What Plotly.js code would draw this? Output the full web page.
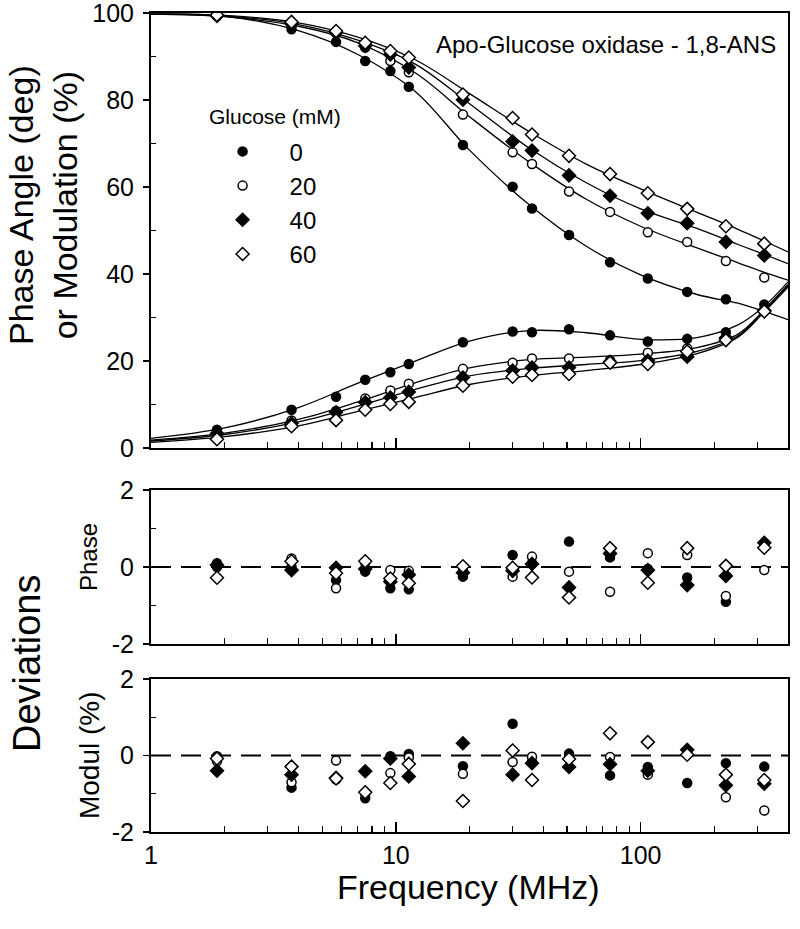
<!DOCTYPE html>
<html>
<head>
<meta charset="utf-8">
<script src="https://cdn.plot.ly/plotly-3.0.1.min.js"></script>
<style>html,body{margin:0;padding:0;background:#fff;}#plot{width:800px;height:929px;}</style>
</head>
<body>
<div id="plot"></div>
<script>
// Frequencies (MHz) of measured points
const freq = [1.86, 3.75, 5.7, 7.5, 9.5, 11.3, 18.8, 30, 36, 51, 75, 107, 155, 223, 320];
const glucoseLabels = ["0", "20", "40", "60"];

// Modulation (%) points
const mod0  = [99.5, 96.3, 93.4, 89.0, 86.7, 83.1, 69.7, 60.1, 55.1, 49.0, 42.7, 39.0, 35.9, 34.2, 31.6];
const mod20 = [99.3, 97.2, 95.4, 92.1, 89.0, 86.4, 76.7, 68.0, 65.3, 59.0, 54.3, 49.6, 47.4, 43.0, 39.2];
const mod40 = [99.4, 97.6, 95.5, 92.5, 90.5, 87.5, 80.1, 70.5, 68.4, 62.7, 58.0, 54.0, 51.7, 47.4, 44.3];
const mod60 = [99.6, 98.0, 95.9, 93.2, 91.3, 89.8, 81.3, 75.9, 72.1, 67.2, 63.0, 58.6, 55.0, 51.0, 47.0];

// Phase angle (deg) points
const ph0  = [4.2, 8.8, 11.8, 15.7, 17.4, 19.3, 24.3, 26.8, 26.6, 27.3, 25.9, 24.5, 25.1, 26.6, 33.0];
const ph20 = [2.8, 6.3, 8.5, 11.4, 13.2, 14.8, 18.2, 19.6, 20.6, 20.6, 20.2, 21.9, 22.9, 25.0, 31.6];
const ph40 = [3.3, 5.7, 8.2, 10.5, 11.6, 12.9, 16.2, 17.8, 18.5, 18.5, 19.8, 20.1, 21.0, 25.3, 31.6];
const ph60 = [2.0, 5.0, 6.4, 8.8, 10.1, 10.6, 14.3, 16.4, 16.8, 17.0, 19.6, 19.3, 22.2, 24.8, 31.4];

// Fitted curves, read at these frequencies
const fitFreq = [1, 2, 4, 7, 12, 20, 35, 60, 100, 170, 250, 320, 400];
const fitMod0  = [99.8, 99.3, 96.0, 90.5, 82.0, 68.5, 56.0, 46.4, 39.8, 35.3, 33.3, 31.4, 29.5];
const fitMod20 = [99.8, 99.2, 97.0, 93.2, 86.3, 76.2, 65.8, 57.2, 51.0, 46.0, 42.6, 40.4, 38.6];
const fitMod40 = [99.8, 99.4, 97.4, 93.8, 88.3, 79.2, 69.0, 61.0, 55.0, 50.5, 46.8, 44.5, 42.4];
const fitMod60 = [99.8, 99.5, 97.8, 94.5, 89.3, 81.5, 72.8, 65.3, 59.6, 54.2, 50.3, 47.6, 45.1];
const fitPh0  = [2.2, 4.6, 9.3, 14.9, 20.0, 24.6, 27.0, 26.5, 25.0, 25.4, 28.3, 32.6, 38.2];
const fitPh20 = [1.8, 3.4, 6.6, 10.6, 15.0, 18.4, 20.3, 20.9, 21.6, 23.1, 26.2, 31.8, 37.6];
const fitPh40 = [1.6, 3.1, 6.0, 9.6, 13.5, 16.6, 18.3, 19.2, 20.1, 22.2, 25.8, 31.6, 37.3];
const fitPh60 = [1.3, 2.6, 5.1, 8.4, 11.6, 14.6, 16.6, 17.8, 19.2, 21.7, 25.5, 31.3, 37.0];

// Deviations (phase)
const dph0  = [0.1, 0.0, -0.34, -0.12, -0.55, -0.58, -0.25, 0.31, 0.1, 0.66, 0.25, -0.05, -0.27, -0.9, 0.6];
const dph20 = [0.0, 0.22, -0.55, 0.12, -0.08, -0.1, -0.1, -0.25, 0.27, -0.12, -0.64, 0.36, 0.31, -0.75, -0.08];
const dph40 = [0.05, -0.08, -0.02, -0.05, -0.38, -0.2, -0.15, -0.1, 0.08, -0.53, 0.35, -0.08, -0.47, -0.23, 0.63];
const dph60 = [-0.28, 0.15, -0.16, 0.15, -0.3, -0.42, 0.02, -0.02, -0.27, -0.79, 0.49, -0.41, 0.49, 0.03, 0.5];

// Deviations (modulation)
const dm0  = [-0.02, -0.84, -0.63, -1.12, -0.02, 0.04, -0.28, 0.83, -0.17, 0.05, -0.52, -0.3, -0.72, -0.2, -0.29];
const dm20 = [-0.15, -0.7, -0.13, -1.0, -0.46, -0.05, -0.48, -0.17, -0.03, -0.05, -0.04, -0.5, 0.08, -1.09, -1.44];
const dm40 = [-0.4, -0.5, -0.58, -0.41, -0.08, -0.55, 0.32, -0.5, -0.2, -0.3, -0.23, -0.4, 0.15, -0.78, -0.74];
const dm60 = [-0.08, -0.29, -0.6, -0.96, -0.72, -0.22, -1.19, 0.13, -0.64, -0.09, 0.58, 0.35, 0.02, -0.5, -0.64];

// Tick labels
const topTickVals = [0, 20, 40, 60, 80, 100];
const topTickText = ["0", "20", "40", "60", "80", "100"];
const devTickVals = [-2, 0, 2];
const devTickText = ["-2", "0", "2"];

const modSets = [mod0, mod20, mod40, mod60];
const phSets = [ph0, ph20, ph40, ph60];
const fitModSets = [fitMod0, fitMod20, fitMod40, fitMod60];
const fitPhSets = [fitPh0, fitPh20, fitPh40, fitPh60];
const dphSets = [dph0, dph20, dph40, dph60];
const dmSets = [dm0, dm20, dm40, dm60];

const markerStyles = [
  {symbol: 'circle', size: 9, color: '#000', line: {color: '#000', width: 1.5}},
  {symbol: 'circle', size: 9, color: '#fff', line: {color: '#000', width: 1.5}},
  {symbol: 'diamond', size: 10, color: '#000', line: {color: '#000', width: 1.5}},
  {symbol: 'diamond', size: 10, color: '#fff', line: {color: '#000', width: 1.5}}
];

const FONT = 'Liberation Sans, Arial, sans-serif';
const traces = [];
for (let i = 0; i < 4; i++) {
  [fitModSets[i], fitPhSets[i]].forEach(arr => {
    traces.push({x: fitFreq, y: arr, xaxis: 'x', yaxis: 'y', mode: 'lines',
      line: {color: '#000', width: 1.3, shape: 'spline', smoothing: 1}, showlegend: false, hoverinfo: 'skip'});
  });
}
for (let i = 0; i < 4; i++) {
  traces.push({x: freq, y: modSets[i], xaxis: 'x', yaxis: 'y', mode: 'markers', marker: markerStyles[i],
    name: glucoseLabels[i], legendgroup: 'g' + i, showlegend: true});
  traces.push({x: freq, y: phSets[i], xaxis: 'x', yaxis: 'y', mode: 'markers', marker: markerStyles[i],
    legendgroup: 'g' + i, showlegend: false});
  traces.push({x: freq, y: dphSets[i], xaxis: 'x2', yaxis: 'y2', mode: 'markers', marker: markerStyles[i],
    legendgroup: 'g' + i, showlegend: false});
  traces.push({x: freq, y: dmSets[i], xaxis: 'x3', yaxis: 'y3', mode: 'markers', marker: markerStyles[i],
    legendgroup: 'g' + i, showlegend: false});
}

const xBase = {
  type: 'log', range: [0, Math.log10(400)], showgrid: false, zeroline: false,
  showline: true, linecolor: '#000', linewidth: 2, mirror: true,
  ticks: 'inside', ticklen: 10, tickwidth: 1.5, tickcolor: '#000', dtick: 1,
  minor: {ticks: 'inside', ticklen: 6, tickwidth: 1.2, tickcolor: '#000', dtick: 'D1', showgrid: false},
  tickfont: {family: FONT, size: 25, color: '#000'}
};
const yBase = {
  showgrid: false, zeroline: false, showline: true, linecolor: '#000', linewidth: 2, mirror: true,
  ticks: 'outside', ticklen: 6, tickwidth: 1.5, tickcolor: '#000', ticklabeloverflow: 'allow',
  tickfont: {family: FONT, size: 25, color: '#000'}, ticklabelstandoff: 4
};
const devMinor = {ticks: 'inside', ticklen: 5, tickwidth: 1.2, tickcolor: '#000', tickmode: 'array', tickvals: [-1, 1], showgrid: false};

const layout = {
  width: 800, height: 929,
  margin: {l: 151, r: 12, t: 13, b: 97},
  paper_bgcolor: '#fff', plot_bgcolor: '#fff',
  showlegend: true,
  legend: {x: 0.07, y: 0.858, xanchor: 'left', yanchor: 'top', bgcolor: 'rgba(0,0,0,0)',
    font: {family: FONT, size: 24, color: '#000'}, itemwidth: 84, tracegroupgap: 0},
  xaxis: Object.assign({}, xBase, {anchor: 'y', showticklabels: false}),
  xaxis2: Object.assign({}, xBase, {anchor: 'y2', matches: 'x', showticklabels: false}),
  xaxis3: Object.assign({}, xBase, {anchor: 'y3', matches: 'x', showticklabels: true}),
  yaxis: Object.assign({}, yBase, {domain: [0.4689, 1], range: [0, 100.05], tickmode: 'array', tickvals: topTickVals, ticktext: topTickText,
    minor: {ticks: 'inside', ticklen: 5, tickwidth: 1.2, tickcolor: '#000', tickmode: 'array', tickvals: [10, 30, 50, 70, 90], showgrid: false}}),
  yaxis2: Object.assign({}, yBase, {domain: [0.2295, 0.4176], range: [-2, 2], tickmode: 'array', tickvals: devTickVals, ticktext: devTickText, minor: devMinor}),
  yaxis3: Object.assign({}, yBase, {domain: [0, 0.1868], range: [-2, 2], tickmode: 'array', tickvals: devTickVals, ticktext: devTickText, minor: devMinor}),
  shapes: [
    {type: 'line', xref: 'x2 domain', yref: 'y2', x0: 0, x1: 1, y0: 0, y1: 0, line: {color: '#000', width: 2, dash: '20px,10px'}, layer: 'below'},
    {type: 'line', xref: 'x3 domain', yref: 'y3', x0: 0, x1: 1, y0: 0, y1: 0, line: {color: '#000', width: 2, dash: '20px,10px'}, layer: 'below'}
  ],
  annotations: [
    {text: 'Apo-Glucose oxidase - 1,8-ANS', xref: 'paper', yref: 'paper', x: 0.984, y: 0.962,
      xanchor: 'right', yanchor: 'middle', showarrow: false, font: {family: FONT, size: 24, color: '#000'}},
    {text: 'Glucose (mM)', xref: 'paper', yref: 'paper', x: 0.088, y: 0.874,
      xanchor: 'left', yanchor: 'middle', showarrow: false, font: {family: FONT, size: 21, color: '#000'}},
    {text: 'Phase Angle (deg)<br>or Modulation (%)', xref: 'paper', yref: 'paper', x: -0.1695, y: 0.7656,
      xanchor: 'center', yanchor: 'middle', textangle: -90, showarrow: false, font: {family: FONT, size: 34, color: '#000'}},
    {text: 'Deviations', xref: 'paper', yref: 'paper', x: -0.1947, y: 0.2063,
      xanchor: 'center', yanchor: 'middle', textangle: -90, showarrow: false, font: {family: FONT, size: 38, color: '#000'}},
    {text: 'Phase', xref: 'paper', yref: 'paper', x: -0.0973, y: 0.3358,
      xanchor: 'center', yanchor: 'middle', textangle: -90, showarrow: false, font: {family: FONT, size: 24, color: '#000'}},
    {text: 'Modul (%)', xref: 'paper', yref: 'paper', x: -0.0973, y: 0.094,
      xanchor: 'center', yanchor: 'middle', textangle: -90, showarrow: false, font: {family: FONT, size: 28, color: '#000'}},
    {text: 'Frequency (MHz)', xref: 'paper', yref: 'paper', x: 0.4992, y: -0.067,
      xanchor: 'center', yanchor: 'middle', showarrow: false, font: {family: FONT, size: 34, color: '#000'}}
  ]
};

Plotly.newPlot('plot', traces, layout, {displayModeBar: false, staticPlot: true});
</script>
</body>
</html>
